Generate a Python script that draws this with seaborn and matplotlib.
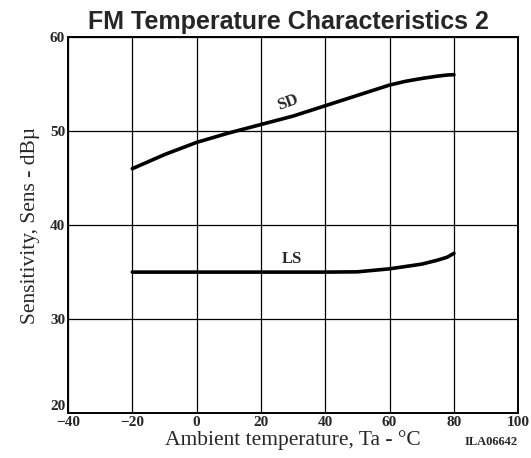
import pandas as pd
import matplotlib.pyplot as plt
import seaborn as sns

# values
temps = [-20, -10, 0, 10, 20, 30, 40, 50, 60, 65, 70, 75, 78, 80]
sd_sens = [46.0, 47.5, 48.8, 49.8, 50.7, 51.6, 52.7, 53.8, 54.9, 55.3, 55.6, 55.85, 55.97, 56.0]
ls_sens = [35.0, 35.0, 35.0, 35.0, 35.0, 35.0, 35.0, 35.03, 35.35, 35.6, 35.85, 36.28, 36.6, 37.0]

df = pd.concat([
    pd.DataFrame({'temp': temps, 'sens': sd_sens, 'curve': 'SD'}),
    pd.DataFrame({'temp': temps, 'sens': ls_sens, 'curve': 'LS'}),
])

sns.set_style('white')
serif = ['Liberation Serif', 'DejaVu Serif']

fig = plt.figure(figsize=(5.31, 4.58), dpi=100)
ax = fig.add_axes([0.128, 0.098, 0.848, 0.821])

sns.lineplot(data=df, x='temp', y='sens', units='curve', estimator=None,
             color='black', linewidth=2.6, ax=ax, legend=False)

ax.set_xlim(-40, 100)
ax.set_ylim(20, 60)
ax.set_xticks(range(-40, 101, 20))
ax.set_yticks(range(20, 61, 10))
ax.grid(True, color='black', linewidth=0.9)
for s in ax.spines.values():
    s.set_color('black')
    s.set_linewidth(1.4)
ax.tick_params(length=0, pad=2)
for lab in ax.get_xticklabels() + ax.get_yticklabels():
    lab.set_family(serif)
    lab.set_weight('bold')
    lab.set_fontsize(11)
# lowest y label sits a little above its gridline, as in the reference
ax.get_yticklabels()[0].set_verticalalignment('bottom')

ax.set_xlabel('Ambient temperature, Ta - °C', family=serif, fontsize=15.5, labelpad=1)
ax.set_ylabel('Sensitivity, Sens - dBµ', family=serif, fontsize=15.5, labelpad=7)

ax.text(28.4, 53.0, 'SD', family=serif, fontsize=12, weight='bold',
        rotation=20, ha='center', va='center')
ax.text(29.7, 36.4, 'LS', family=serif, fontsize=12, weight='bold',
        ha='center', va='center')

fig.text(0.543, 0.952, 'FM Temperature Characteristics 2', family=['Liberation Sans', 'DejaVu Sans'],
         fontsize=18, weight='bold', ha='center', va='center')
fig.text(0.925, 0.035, 'ILA06642', family=serif, fontsize=9, weight='bold',
         ha='center', va='center')

fig.savefig('out.png', dpi=100)
